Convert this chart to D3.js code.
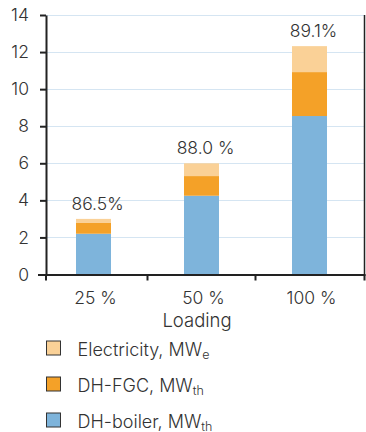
<!DOCTYPE html>
<html>
<head>
<meta charset="utf-8">
<script src="https://cdn.jsdelivr.net/npm/d3@7"></script>
<style>
  html, body { margin: 0; padding: 0; background: #fff; }
  svg { display: block; }
  text { font-family: Inter, Roboto, sans-serif; font-weight: 300; fill: #333; }
</style>
</head>
<body>
<svg id="chart" width="366" height="432"></svg>
<script>
// ---- Data ----
const categories = ["25 %", "50 %", "100 %"];
const boiler = [2.2, 4.25, 8.55];       // DH-boiler, MWth
const fgc = [0.58, 1.06, 2.37];         // DH-FGC, MWth
const electricity = [0.22, 0.69, 1.4];  // Electricity, MWe
const efficiency = ["86.5%", "88.0 %", "89.1%"];
const yTicks = [0, 2, 4, 6, 8, 10, 12, 14];
const seriesKeys = ["boiler", "fgc", "electricity"];
const legendItems = [
  { key: "electricity", label: "Electricity, MW", sub: "e" },
  { key: "fgc", label: "DH-FGC, MW", sub: "th" },
  { key: "boiler", label: "DH-boiler, MW", sub: "th" }
];

// ---- Styles ----
const colors = { boiler: "#7EB4DB", fgc: "#F4A128", electricity: "#FAD197" };
const mLeft = 46, mRight = 364.5, mTop = 15, mBottom = 274.5;
const barWidth = 35;
const fs = 17.5;

const svg = d3.select("#chart");

const rows = categories.map((c, i) => ({ cat: c, boiler: boiler[i], fgc: fgc[i], electricity: electricity[i] }));
const stack = d3.stack().keys(seriesKeys)(rows);

const x = d3.scalePoint().domain(categories).range([39.5, 363.5]).padding(0.5);
const y = d3.scaleLinear().domain([0, 14]).range([mBottom, mTop]);

// gridlines
svg.append("g").selectAll("line").data(yTicks.filter(t => t > 0)).join("line")
  .attr("x1", mLeft).attr("x2", mRight)
  .attr("y1", d => Math.round(y(d)) + 0.5).attr("y2", d => Math.round(y(d)) + 0.5)
  .attr("stroke", "#D5E5F2").attr("stroke-width", 1);

// bars
svg.append("g").selectAll("g").data(stack).join("g")
  .attr("fill", d => colors[d.key])
  .selectAll("rect").data(d => d).join("rect")
  .attr("x", d => x(d.data.cat) - barWidth / 2)
  .attr("width", barWidth)
  .attr("y", d => y(d[1]))
  .attr("height", d => y(d[0]) - y(d[1]));

// efficiency labels
const totals = rows.map(r => r.boiler + r.fgc + r.electricity);
svg.append("g").selectAll("text").data(categories).join("text")
  .attr("x", (d) => x(d) + 4)
  .attr("y", (d, i) => y(totals[i]) - 9)
  .attr("text-anchor", "middle")
  .attr("font-size", fs)
  .text((d, i) => efficiency[i]);

// y axis
const yAxis = svg.append("g").attr("transform", `translate(${mLeft},0)`)
  .call(d3.axisLeft(y).tickValues(yTicks).tickSize(6).tickPadding(11).tickSizeOuter(0));
yAxis.select(".domain").attr("stroke", "#222").attr("stroke-width", 2);
yAxis.selectAll(".tick line").attr("stroke", "#222").attr("stroke-width", 2);
yAxis.selectAll(".tick text").attr("font-size", fs).attr("font-family", "Inter, Roboto, sans-serif").attr("font-weight", 300).attr("fill", "#333");

// right border
svg.append("line").attr("x1", mRight).attr("x2", mRight).attr("y1", mTop).attr("y2", mBottom + 1)
  .attr("stroke", "#222").attr("stroke-width", 1.5);

// x axis line
svg.append("line").attr("x1", mLeft - 8).attr("x2", mRight + 1).attr("y1", mBottom + 0.5).attr("y2", mBottom + 0.5)
  .attr("stroke", "#222").attr("stroke-width", 2);

// x separator ticks (between categories and at ends)
const sepX = [mLeft];
for (let i = 0; i < categories.length - 1; i++) sepX.push((x(categories[i]) + x(categories[i + 1])) / 2);
sepX.push(mRight);
svg.append("g").selectAll("line").data(sepX).join("line")
  .attr("x1", d => d).attr("x2", d => d)
  .attr("y1", mBottom).attr("y2", mBottom + 6)
  .attr("stroke", "#222").attr("stroke-width", 2);

// x labels
svg.append("g").selectAll("text").data(categories).join("text")
  .attr("x", d => x(d) + 2)
  .attr("y", 304)
  .attr("text-anchor", "middle")
  .attr("font-size", fs)
  .text(d => d);

svg.append("text").attr("x", 197).attr("y", 327).attr("text-anchor", "middle")
  .attr("font-size", 18.5).text("Loading");

// legend
const lg = svg.append("g").selectAll("g").data(legendItems).join("g")
  .attr("transform", (d, i) => `translate(46.5, ${341 + i * 36})`);
lg.append("rect").attr("width", 14).attr("height", 14)
  .attr("fill", d => colors[d.key]).attr("stroke", "#333").attr("stroke-width", 1);
const lt = lg.append("text").attr("x", 31).attr("y", 14.5).attr("font-size", 18);
lt.append("tspan").text(d => d.label);
lt.append("tspan").attr("dy", 3).attr("font-size", 12.5).text(d => d.sub);
</script>
</body>
</html>
